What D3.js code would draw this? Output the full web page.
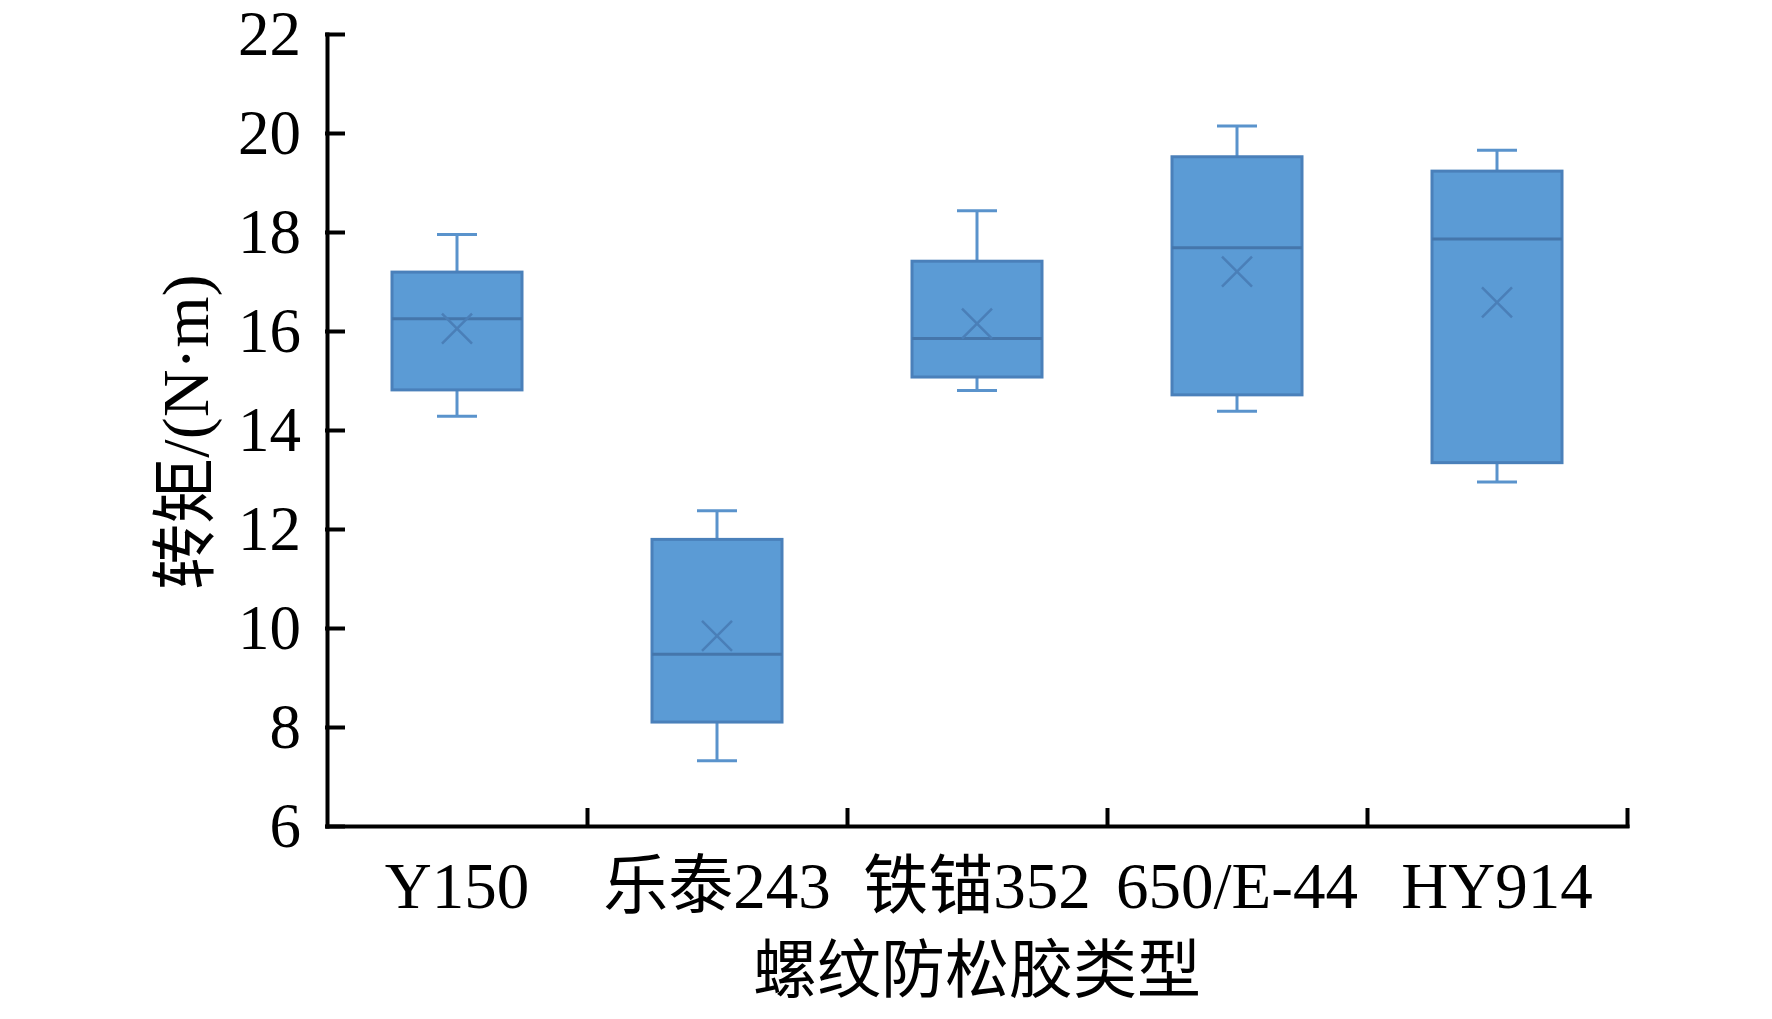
<!DOCTYPE html>
<html>
<head>
<meta charset="utf-8">
<script src="https://cdn.jsdelivr.net/npm/d3@7"></script>
<style>
  body { margin: 0; background: #fff; }
  text { font-family: "Liberation Serif", "Noto Sans CJK SC", serif; fill: #000; }
</style>
</head>
<body>
<svg class="chart"></svg>
<script>
// values
var categories = ["Y150", "乐泰243", "铁锚352", "650/E-44", "HY914"];
var whiskerLow  = [14.28, 7.32, 14.8, 14.38, 12.95];
var q1          = [14.81, 8.1, 15.07, 14.71, 13.34];
var median      = [16.25, 9.47, 15.85, 17.68, 17.86];
var q3          = [17.19, 11.79, 17.41, 19.52, 19.23];
var whiskerHigh = [17.95, 12.37, 18.43, 20.14, 19.65];
var mean        = [16.05, 9.84, 16.15, 17.2, 16.58];
var yTicks = [6, 8, 10, 12, 14, 16, 18, 20, 22];
var yTitle = "转矩/(N·m)";
var xTitle = "螺纹防松胶类型";

var width = 1772, height = 1019;
var plotLeft = 327, plotRight = 1627, plotTop = 34, plotBottom = 826;

var svg = d3.select("svg.chart")
    .attr("width", width)
    .attr("height", height);

var x = d3.scaleBand().domain(categories).range([plotLeft, plotRight]).padding(0);
var xb = d3.scaleLinear().domain([0, categories.length]).range([plotLeft, plotRight]);
var y = d3.scaleLinear().domain([6, 22]).range([plotBottom, plotTop]);

var boxW = x.bandwidth() * 0.5;
var capW = 40;

// y axis, ticks pointing inside
var yAxis = svg.append("g")
    .attr("transform", "translate(" + plotLeft + ",0)")
    .call(d3.axisLeft(y).tickValues(yTicks).tickSizeInner(-16).tickSizeOuter(0).tickPadding(26));
yAxis.selectAll("text").style("font-size", "63px");

// x axis, ticks on category boundaries
var xAxis = svg.append("g")
    .attr("transform", "translate(0," + plotBottom + ")")
    .call(d3.axisBottom(xb).tickValues([1, 2, 3, 4, 5]).tickSizeInner(-16).tickSizeOuter(0).tickFormat(""));

svg.selectAll(".domain, .tick line")
    .attr("stroke", "#000")
    .attr("stroke-width", 4)
    .attr("stroke-linecap", "square");

// category labels
svg.append("g").selectAll("text")
    .data(categories)
    .enter().append("text")
    .attr("x", d => x(d) + x.bandwidth() / 2)
    .attr("y", 908)
    .attr("text-anchor", "middle")
    .style("font-size", "65px")
    .text(d => d);

// boxes
var boxes = categories.map(function(c, i) {
    return { name: c, lo: whiskerLow[i], q1: q1[i], med: median[i], q3: q3[i], hi: whiskerHigh[i], mean: mean[i] };
});

var g = svg.append("g").selectAll("g")
    .data(boxes)
    .enter().append("g")
    .attr("transform", d => "translate(" + (x(d.name) + x.bandwidth() / 2) + ",0)");

var whiskerColor = "#5a93cc";

g.append("line")
    .attr("x1", 0).attr("x2", 0)
    .attr("y1", d => y(d.hi)).attr("y2", d => y(d.q3))
    .attr("stroke", whiskerColor).attr("stroke-width", 3);
g.append("line")
    .attr("x1", 0).attr("x2", 0)
    .attr("y1", d => y(d.q1)).attr("y2", d => y(d.lo))
    .attr("stroke", whiskerColor).attr("stroke-width", 3);
g.append("line")
    .attr("x1", -capW / 2).attr("x2", capW / 2)
    .attr("y1", d => y(d.hi)).attr("y2", d => y(d.hi))
    .attr("stroke", whiskerColor).attr("stroke-width", 3);
g.append("line")
    .attr("x1", -capW / 2).attr("x2", capW / 2)
    .attr("y1", d => y(d.lo)).attr("y2", d => y(d.lo))
    .attr("stroke", whiskerColor).attr("stroke-width", 3);

g.append("rect")
    .attr("x", -boxW / 2)
    .attr("width", boxW)
    .attr("y", d => y(d.q3))
    .attr("height", d => y(d.q1) - y(d.q3))
    .attr("fill", "#5b9bd5")
    .attr("stroke", "#4a80ba")
    .attr("stroke-width", 3);

g.append("line")
    .attr("x1", -boxW / 2).attr("x2", boxW / 2)
    .attr("y1", d => y(d.med)).attr("y2", d => y(d.med))
    .attr("stroke", "#4576ab").attr("stroke-width", 3);

// mean marker
var m = 15;
g.append("path")
    .attr("d", d => "M" + (-m) + "," + (y(d.mean) - m) + "L" + m + "," + (y(d.mean) + m) +
                    "M" + m + "," + (y(d.mean) - m) + "L" + (-m) + "," + (y(d.mean) + m))
    .attr("stroke", "#4a7fb8")
    .attr("stroke-width", 2.5)
    .attr("fill", "none");

// axis titles
svg.append("text")
    .attr("transform", "translate(185,432) rotate(-90)")
    .attr("text-anchor", "middle")
    .attr("dy", "0.35em")
    .style("font-size", "66px")
    .text(yTitle);

svg.append("text")
    .attr("x", (plotLeft + plotRight) / 2)
    .attr("y", 992)
    .attr("text-anchor", "middle")
    .style("font-size", "64px")
    .text(xTitle);
</script>
</body>
</html>
